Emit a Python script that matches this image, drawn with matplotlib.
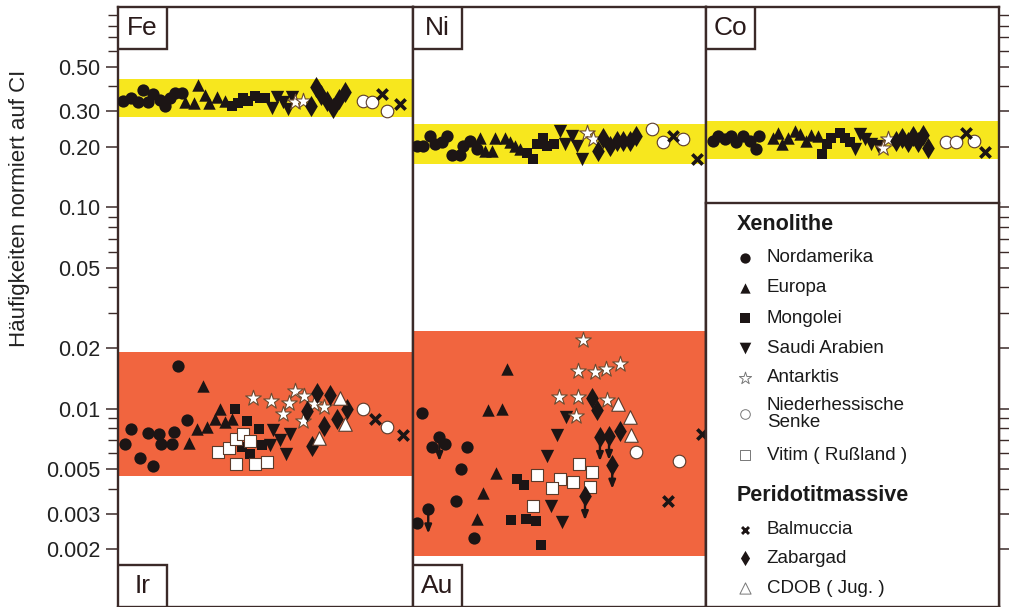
import matplotlib
matplotlib.use("Agg")
import matplotlib.pyplot as plt
from matplotlib.patches import Rectangle
from matplotlib.ticker import FixedLocator, FixedFormatter, NullFormatter

plt.rcParams['font.family'] = ['Liberation Sans', 'DejaVu Sans']

# sample position along each panel (0..100) and abundance normalised to CI
FE = {
    "nord": ([1.8, 4.3, 6.9, 8.4, 10.3, 12.0, 14.2, 15.9, 17.6, 19.3, 21.6],
             [0.338, 0.351, 0.332, 0.383, 0.334, 0.365, 0.342, 0.319, 0.351, 0.368, 0.368]),
    "euro": ([22.7, 25.8, 27.2, 29.5, 30.9, 33.7, 36.3],
             [0.334, 0.329, 0.405, 0.361, 0.329, 0.355, 0.338]),
    "mong": ([38.5, 40.8, 42.5, 44.2, 46.4, 48.1, 49.8],
             [0.319, 0.329, 0.351, 0.338, 0.358, 0.351, 0.351]),
    "saudi": ([52.1, 53.8, 55.8, 57.7, 58.9],
              [0.313, 0.355, 0.332, 0.307, 0.355]),
    "ant": ([60.0, 62.8], [0.332, 0.338]),
    "zab": ([65.4, 67.1, 68.7, 70.7, 73.0, 75.0, 77.0],
            [0.319, 0.394, 0.361, 0.338, 0.310, 0.345, 0.372]),
    "nhs": ([83.2, 86.0, 91.1], [0.338, 0.334, 0.301]),
    "balm": ([89.4, 95.6], [0.365, 0.325]),
}

NI = {
    "nord": ([1.3, 3.5, 5.8, 7.5, 9.8, 11.5, 13.2, 16.0, 17.2, 19.5, 21.7],
             [0.202, 0.202, 0.225, 0.206, 0.210, 0.225, 0.181, 0.181, 0.202, 0.214, 0.194]),
    "euro": ([22.9, 24.6, 26.9, 28.0, 31.4, 33.1, 34.8, 36.5],
             [0.220, 0.191, 0.191, 0.222, 0.222, 0.211, 0.202, 0.194]),
    "mong": ([38.8, 41.1, 42.2, 44.5, 45.7, 48.2],
             [0.187, 0.173, 0.206, 0.222, 0.202, 0.206]),
    "saudi": ([50.2, 51.9, 54.2, 55.9, 57.6],
              [0.240, 0.206, 0.225, 0.202, 0.173]),
    "ant": ([59.3, 61.5], [0.233, 0.218]),
    "zab": ([63.2, 64.9, 67.2, 69.5, 71.8, 74.1, 76.1],
            [0.191, 0.222, 0.202, 0.214, 0.214, 0.214, 0.226]),
    "nhs": ([81.5, 85.4, 92.0], [0.244, 0.210, 0.218]),
    "balm": ([88.6, 96.8], [0.225, 0.173]),
}

CO = {
    "nord": ([2.5, 4.2, 6.5, 8.7, 10.4, 12.7, 15.0, 17.0, 18.1],
             [0.214, 0.226, 0.218, 0.226, 0.210, 0.225, 0.214, 0.194, 0.225]),
    "euro": ([22.9, 24.6, 26.1, 28.0, 30.3, 32.0, 34.3, 36.0, 38.2],
             [0.222, 0.235, 0.206, 0.222, 0.240, 0.231, 0.214, 0.228, 0.225]),
    "mong": ([39.7, 41.3, 42.8, 45.6, 47.3, 49.0],
             [0.184, 0.206, 0.222, 0.235, 0.220, 0.210]),
    "saudi": ([50.7, 52.4, 54.4, 56.4, 58.6],
              [0.194, 0.231, 0.218, 0.206, 0.202]),
    "ant": ([60.3, 62.0], [0.198, 0.218]),
    "zab": ([64.9, 66.9, 68.8, 70.5, 72.5, 74.1, 75.6],
            [0.214, 0.222, 0.210, 0.225, 0.210, 0.228, 0.198]),
    "nhs": ([81.9, 85.3, 91.5], [0.210, 0.211, 0.214]),
    "balm": ([88.9, 95.2], [0.233, 0.188]),
}

IR = {
    "nord": ([2.4, 4.3, 7.5, 10.3, 11.8, 14.0, 14.5, 18.2, 19.0, 20.4, 23.3],
             [0.0067, 0.00789, 0.00569, 0.0076, 0.00522, 0.00751, 0.0067, 0.0067, 0.00766, 0.0163, 0.00875]),
    "euro": ([24.2, 26.7, 28.7, 30.1, 32.9, 34.6, 36.3, 38.5],
             [0.00677, 0.00795, 0.0129, 0.00811, 0.00892, 0.0100, 0.00858, 0.00892]),
    "mong": ([39.7, 41.9, 43.8, 44.7, 47.9, 48.7],
             [0.0100, 0.00645, 0.00865, 0.00597, 0.00795, 0.00657]),
    "vitim": ([34.0, 37.6, 39.9, 40.0, 42.5, 44.7, 46.4, 50.4],
              [0.00609, 0.0064, 0.00709, 0.00533, 0.00751, 0.00688, 0.00533, 0.00543]),
    "saudi": ([51.5, 52.6, 54.9, 56.9, 58.3],
              [0.00662, 0.0078, 0.00695, 0.00597, 0.00751]),
    "ant": ([45.9, 51.9, 55.8, 58.0, 60.0, 62.6, 63.1, 66.4, 69.8],
            [0.0113, 0.0109, 0.00944, 0.0107, 0.0123, 0.00865, 0.0115, 0.0106, 0.0102]),
    "zab": ([65.7, 64.2, 67.6, 69.9, 71.9, 74.1, 77.5],
            [0.00652, 0.0097, 0.0120, 0.0082, 0.0117, 0.00892, 0.00992]),
    "cdob": ([68.2, 75.3, 76.9], [0.00715, 0.0113, 0.00842]),
    "nhs": ([83.2, 91.3], [0.00992, 0.00811]),
    "balm": ([87.2, 96.5], [0.00892, 0.00736]),
}

AU = {
    "nord": ([3.0, 9.0, 6.4, 10.9, 18.3, 16.3, 14.7, 5.2, 1.5, 20.8],
             [0.00955, 0.00723, 0.00645, 0.0067, 0.00645, 0.00499, 0.00347, 0.00316, 0.00271, 0.00228]),
    "euro": ([32.0, 25.7, 30.3, 28.3, 23.8, 21.7],
             [0.0157, 0.0098, 0.00992, 0.0048, 0.00382, 0.00284]),
    "mong": ([35.6, 37.9, 33.3, 38.6, 41.9, 43.6],
             [0.00445, 0.0042, 0.00281, 0.00284, 0.00278, 0.00211]),
    "vitim": ([56.8, 61.0, 42.2, 50.2, 54.5, 47.3, 60.4, 40.9],
              [0.00533, 0.00484, 0.00466, 0.00445, 0.00432, 0.00403, 0.00409, 0.00328]),
    "saudi": ([52.2, 49.0, 45.8, 47.0, 50.8],
              [0.00909, 0.00742, 0.00582, 0.0033, 0.00275]),
    "ant": ([58.1, 56.4, 62.1, 65.9, 70.6, 49.8, 56.4, 66.3, 55.6],
            [0.0219, 0.0153, 0.0152, 0.0157, 0.0166, 0.0114, 0.0114, 0.0110, 0.00916]),
    "zab": ([61.0, 62.9, 70.6, 63.8, 66.9, 68.0, 58.7],
            [0.0113, 0.0098, 0.00771, 0.00723, 0.00732, 0.00527, 0.00368]),
    "cdob": ([70.1, 74.1, 74.3], [0.0105, 0.00909, 0.00742]),
    "nhs": ([76.1, 90.7], [0.00609, 0.00549]),
    "balm": ([98.5, 87.1], [0.00751, 0.00346]),
}

# upper limits (arrows pointing down) in the Au panel
AU_LIMITS_X = [9.0, 5.2, 63.8, 66.9, 68.0, 58.7]
AU_LIMITS_Y = [0.00723, 0.00316, 0.00723, 0.00732, 0.00527, 0.00368]

# normal ranges (bands)
FE_BAND = (0.28, 0.434)
NI_BAND = (0.164, 0.259)
CO_BAND = (0.173, 0.27)
IR_BAND = (0.00464, 0.0192)
AU_BAND = (0.00186, 0.0244)

YTICKS = [0.5, 0.3, 0.2, 0.1, 0.05, 0.02, 0.01, 0.005, 0.003, 0.002]
YTICK_LABELS = ["0.50", "0.30", "0.20", "0.10", "0.05", "0.02", "0.01", "0.005", "0.003", "0.002"]

INK = "#1c1515"
FRAME = "#3b2a28"
YELLOW = "#f7e71e"
ORANGE = "#f1653f"

STYLE = {
    "nord": dict(marker="o", s=78, c=INK, linewidths=0),
    "euro": dict(marker="^", s=80, c=INK, linewidths=0),
    "mong": dict(marker="s", s=62, c=INK, linewidths=0),
    "saudi": dict(marker="v", s=92, c=INK, linewidths=0),
    "ant": dict(marker="*", s=140, c="white", edgecolors="#6b4a30", linewidths=0.8),
    "nhs": dict(marker="o", s=82, c="white", edgecolors="#5a3a2a", linewidths=0.8),
    "vitim": dict(marker="s", s=78, c="white", edgecolors="#5a3a2a", linewidths=0.8),
    "balm": dict(marker="x", s=55, c=INK, linewidths=2.6),
    "zab": dict(marker="d", s=115, c=INK, linewidths=0),
    "cdob": dict(marker="^", s=95, c="white", edgecolors="#5a3a2a", linewidths=0.8),
}

W, H = 1009, 607
fig = plt.figure(figsize=(W / 100, H / 100), dpi=100)

YLIM = (0.001035, 0.989)
top = 1 - 7 / H
panels = [(118, 295), (413, 293), (706, 293)]
axes = []
for left, width in panels:
    ax = fig.add_axes([left / W, 0.0, width / W, top])
    ax.set_yscale("log")
    ax.set_ylim(*YLIM)
    ax.set_xlim(0, 100)
    ax.set_xticks([])
    for sp in ax.spines.values():
        sp.set_color(FRAME)
        sp.set_linewidth(1.7)
    axes.append(ax)

minor = [m * 10.0 ** e for e in (-3, -2, -1) for m in range(1, 10)]
minor = [v for v in minor if all(abs(v - t) > 1e-9 for t in YTICKS) and YLIM[0] < v < YLIM[1]]

for i, ax in enumerate(axes):
    ax.yaxis.set_major_locator(FixedLocator(YTICKS))
    ax.yaxis.set_minor_locator(FixedLocator(minor))
    ax.yaxis.set_minor_formatter(NullFormatter())
    if i == 0:
        ax.yaxis.set_major_formatter(FixedFormatter(YTICK_LABELS))
        ax.tick_params(axis="y", which="both", direction="out", color=FRAME,
                       labelsize=15.5, labelcolor="#222")
        ax.tick_params(axis="y", which="major", length=9, width=1.1)
        ax.tick_params(axis="y", which="minor", length=7, width=1.0)
    elif i == 2:
        ax.yaxis.tick_right()
        ax.yaxis.set_major_formatter(NullFormatter())
        ax.tick_params(axis="y", which="both", direction="out", color=FRAME)
        ax.tick_params(axis="y", which="major", length=9, width=1.1)
        ax.tick_params(axis="y", which="minor", length=7, width=1.0)
    else:
        ax.tick_params(axis="y", which="both", left=False, right=False,
                       labelleft=False)


def draw(ax, data):
    for key, (xs, ys) in data.items():
        ax.scatter(xs, ys, zorder=3, **STYLE[key])


ax_fe, ax_ni, ax_co = axes
ax_fe.axhspan(*FE_BAND, color=YELLOW, lw=0, zorder=1)
ax_fe.axhspan(*IR_BAND, color=ORANGE, lw=0, zorder=1)
ax_ni.axhspan(*NI_BAND, color=YELLOW, lw=0, zorder=1)
ax_ni.axhspan(*AU_BAND, color=ORANGE, lw=0, zorder=1)
ax_co.axhspan(*CO_BAND, color=YELLOW, lw=0, zorder=1)

draw(ax_fe, FE)
draw(ax_fe, IR)
draw(ax_ni, NI)
draw(ax_ni, AU)
draw(ax_co, CO)

for x, y in zip(AU_LIMITS_X, AU_LIMITS_Y):
    ax_ni.annotate("", xy=(x, y * 10 ** -0.12), xytext=(x, y),
                   arrowprops=dict(arrowstyle="-|>,head_width=0.2,head_length=0.5",
                                   color=INK, lw=1.7, shrinkA=0, shrinkB=0),
                   zorder=4)


def element_box(ax, label, at_top):
    bw, bh = 49 / 295, 42 / 599
    y0 = 1 - bh if at_top else 0
    ax.add_patch(Rectangle((0, y0), bw, bh, transform=ax.transAxes, fill=True,
                           facecolor="white", edgecolor=FRAME, lw=1.7, zorder=5))
    ax.text(bw / 2, y0 + bh / 2, label, transform=ax.transAxes, ha="center",
            va="center", fontsize=19, color="#2a1a1a", zorder=6)


element_box(ax_fe, "Fe", True)
element_box(ax_fe, "Ir", False)
element_box(ax_ni, "Ni", True)
element_box(ax_ni, "Au", False)
element_box(ax_co, "Co", True)

# legend panel in the lower part of the Co column
leg = fig.add_axes([706 / W, 0.0, 293 / W, (H - 203) / H])
leg.set_xlim(0, 1)
leg.set_ylim(0, 1)
leg.set_xticks([])
leg.set_yticks([])
for sp in leg.spines.values():
    sp.set_color(FRAME)
    sp.set_linewidth(1.7)

LEG_STYLE = {
    "nord": dict(marker="o", s=55, c=INK, linewidths=0),
    "euro": dict(marker="^", s=55, c=INK, linewidths=0),
    "mong": dict(marker="s", s=42, c=INK, linewidths=0),
    "saudi": dict(marker="v", s=70, c=INK, linewidths=0),
    "ant": dict(marker="*", s=85, c="white", edgecolors="#777", linewidths=0.7),
    "nhs": dict(marker="o", s=48, c="white", edgecolors="#777", linewidths=0.7),
    "vitim": dict(marker="s", s=48, c="white", edgecolors="#777", linewidths=0.7),
    "balm": dict(marker="x", s=25, c=INK, linewidths=2.1),
    "zab": dict(marker="d", s=60, c=INK, linewidths=0),
    "cdob": dict(marker="^", s=65, c="white", edgecolors="#777", linewidths=0.7),
}

xen_entries = [("nord", "Nordamerika", 0.864), ("euro", "Europa", 0.790),
               ("mong", "Mongolei", 0.715), ("saudi", "Saudi Arabien", 0.641),
               ("ant", "Antarktis", 0.567), ("nhs", "Niederhessische\nSenke", 0.478),
               ("vitim", "Vitim ( Rußland )", 0.376)]
per_entries = [("balm", "Balmuccia", 0.191), ("zab", "Zabargad", 0.121),
               ("cdob", "CDOB ( Jug. )", 0.047)]

leg.text(0.105, 0.946, "Xenolithe", fontsize=15.5, fontweight="bold", va="center",
         color="#1a1a1a")
leg.text(0.105, 0.277, "Peridotitmassive", fontsize=15.5, fontweight="bold",
         va="center", color="#1a1a1a")
for key, label, y in xen_entries + per_entries:
    leg.scatter([0.133], [y], **LEG_STYLE[key])
    leg.text(0.207, y, label, fontsize=13.5, va="center", color="#1a1a1a",
             linespacing=0.95)

fig.text(20 / W, 1 - 208 / H, "Häufigkeiten normiert auf CI", rotation=90,
         ha="center", va="center", fontsize=16, color="#222")

fig.savefig("out.png", dpi=100)
